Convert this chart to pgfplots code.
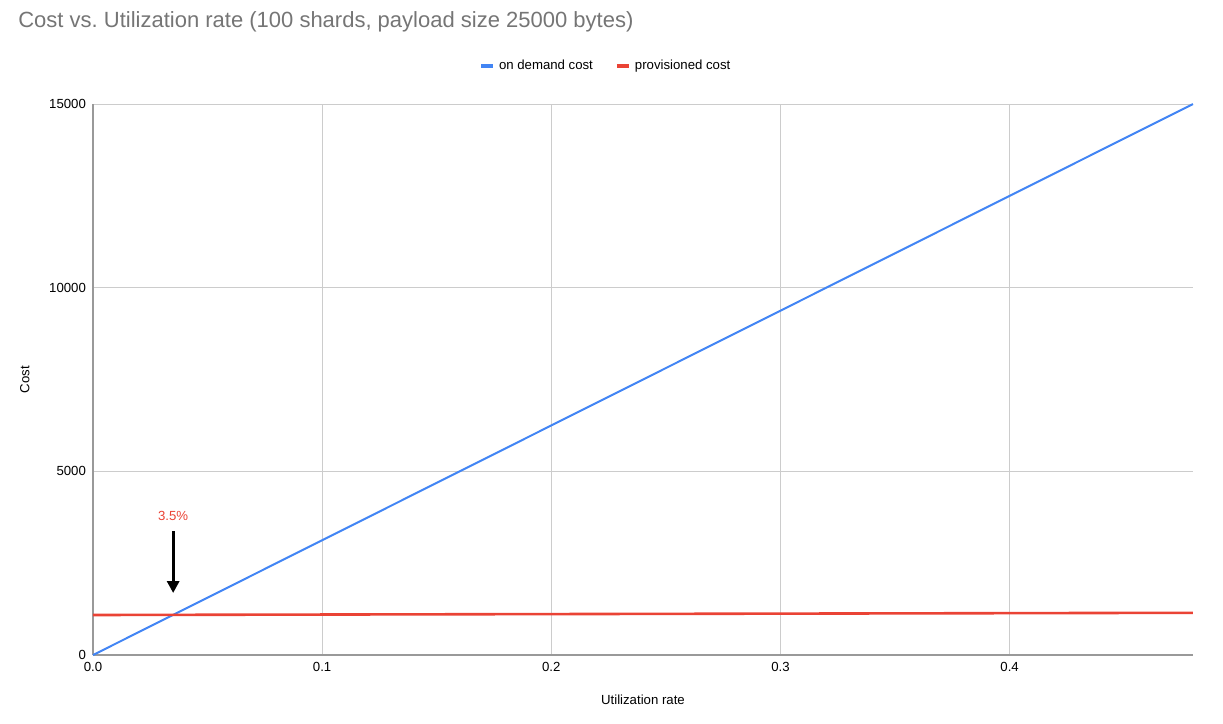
\documentclass[border=0pt]{standalone}
\usepackage{pgfplots}
\pgfplotsset{compat=1.18}
\usetikzlibrary{arrows.meta}
\usepackage{fontspec}
\setmainfont{Liberation Sans}
\definecolor{gblue}{HTML}{4285F4}
\definecolor{gred}{HTML}{EA4335}
\definecolor{ttlgray}{HTML}{757575}
\definecolor{gridgray}{HTML}{CCCCCC}
\definecolor{axgray}{HTML}{999999}
\frenchspacing
\begin{document}
\begin{tikzpicture}[font=\fontsize{6.6}{8}\selectfont]
\begin{axis}[
    scale only axis,
    width=550pt, height=275.5pt,
    xmin=0, xmax=0.48,
    ymin=0, ymax=15000,
    xtick={0,0.1,0.2,0.3,0.4},
    ytick={0,5000,10000,15000},
    scaled y ticks=false,
    xticklabel style={/pgf/number format/fixed, /pgf/number format/fixed zerofill,
        /pgf/number format/precision=1},
    yticklabel style={/pgf/number format/fixed, /pgf/number format/1000 sep={}},
    /pgf/number format/assume math mode=true,
    major tick length=0pt,
    axis x line*=bottom,
    axis y line*=left,
    axis line style={axgray, line width=0.7pt},
    grid=major,
    grid style={gridgray, line width=0.5pt},
    xlabel={Utilization rate},
    ylabel={Cost},
    every axis x label/.style={at={(rel axis cs:0.5,-0.0817)}, anchor=center},
    every axis y label/.style={at={(rel axis cs:-0.062,0.5)}, rotate=90, anchor=center},
    title={Cost vs. Utilization rate (100 shards, payload size 25000 bytes)},
    every axis title/.style={at={(rel axis cs:-0.0682,1.149)}, anchor=west, inner sep=0pt,
        font=\fontsize{11}{13}\selectfont, text=ttlgray},
    legend columns=2,
    legend style={at={(rel axis cs:0.467,1.069)}, anchor=center, draw=none,
        fill=none, /tikz/every even column/.append style={column sep=9pt}},
    legend image code/.code={\draw[line width=2pt] (0pt,0pt) -- (6pt,0pt);},
    clip=false,
]
\addplot[gblue, line width=1pt] coordinates {(0,0) (0.48,15000)};
\addplot[gred, line width=1.3pt] coordinates {(0,1090) (0.48,1150)};
\legend{on demand cost, provisioned cost}
\node[text=gred] at (axis cs:0.035,3784) {3.5\%};
\draw[-{Triangle[width=6pt,length=6pt]}, line width=1.5pt] (axis cs:0.035,3375) -- (axis cs:0.035,1688);
\path (rel axis cs:-0.0845,-0.1234) rectangle (rel axis cs:1.0273,1.1888);
\end{axis}
\end{tikzpicture}
\end{document}
